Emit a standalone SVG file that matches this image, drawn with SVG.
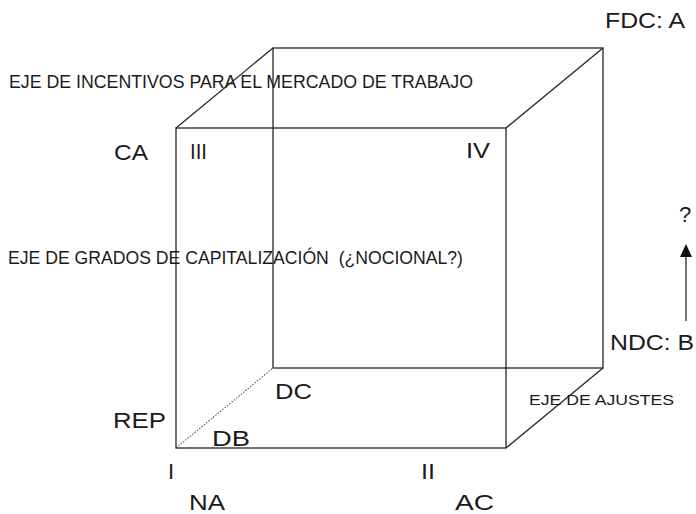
<svg xmlns="http://www.w3.org/2000/svg" width="696" height="514" viewBox="0 0 696 514">
<style>
.e{fill:none;stroke:#262626;stroke-width:1.3}
.d{fill:none;stroke:#555;stroke-width:1.1;stroke-dasharray:1.5 1.5}
text{font-family:"Liberation Sans",Arial,sans-serif;fill:#1a1a1a}
.b{font-size:22px}
.s{font-size:18px}
.m{font-size:15px}
</style>
<rect width="696" height="514" fill="#fff"/>
<g id="connectors">
<rect id="back-face" class="e" x="273" y="48" width="330" height="320"/>
<line class="e" x1="176" y1="128" x2="273" y2="48"/>
<line class="e" x1="506" y1="128" x2="603" y2="48"/>
<line class="e" x1="506" y1="448" x2="603" y2="368"/>
<line class="d" x1="176" y1="448" x2="273" y2="368"/>
<rect id="front-face" class="e" x="176" y="128" width="330" height="320"/>
<line class="e" x1="686" y1="321" x2="686" y2="256"/>
<path d="M680,257 L686,244 L692,257 Z" fill="#111"/>
</g>
<g id="axis-labels">
<text class="s" x="9" y="88" textLength="464" lengthAdjust="spacingAndGlyphs">EJE DE INCENTIVOS PARA EL MERCADO DE TRABAJO</text>
<text class="s" x="8" y="264" textLength="455" lengthAdjust="spacingAndGlyphs" xml:space="preserve" style="white-space:pre">EJE DE GRADOS DE CAPITALIZACIÓN  (¿NOCIONAL?)</text>
<text class="m" x="529" y="405" textLength="145" lengthAdjust="spacingAndGlyphs">EJE DE AJUSTES</text>
</g>
<g id="node-FDC"><text class="b" x="605" y="28" textLength="80" lengthAdjust="spacingAndGlyphs">FDC: A</text></g>
<g id="node-NDC"><text class="b" x="610" y="350" textLength="84" lengthAdjust="spacingAndGlyphs">NDC: B</text></g>
<g id="node-q"><text class="b" x="679" y="222">?</text></g>
<g id="node-CA"><text class="b" x="114" y="160" textLength="34" lengthAdjust="spacingAndGlyphs">CA</text></g>
<g id="node-III"><text class="b" x="190" y="159" textLength="17" lengthAdjust="spacingAndGlyphs">III</text></g>
<g id="node-IV"><text class="b" x="466" y="158" textLength="24" lengthAdjust="spacingAndGlyphs">IV</text></g>
<g id="node-DC"><text class="b" x="275" y="399" textLength="37" lengthAdjust="spacingAndGlyphs">DC</text></g>
<g id="node-REP"><text class="b" x="113" y="428" textLength="53" lengthAdjust="spacingAndGlyphs">REP</text></g>
<g id="node-DB"><text class="b" x="212" y="446" textLength="38" lengthAdjust="spacingAndGlyphs">DB</text></g>
<g id="node-I"><text class="b" x="168" y="479">I</text></g>
<g id="node-II"><text class="b" x="421" y="479" textLength="14" lengthAdjust="spacingAndGlyphs">II</text></g>
<g id="node-NA"><text class="b" x="189" y="510" textLength="36" lengthAdjust="spacingAndGlyphs">NA</text></g>
<g id="node-AC"><text class="b" x="455" y="510" textLength="39" lengthAdjust="spacingAndGlyphs">AC</text></g>
</svg>
